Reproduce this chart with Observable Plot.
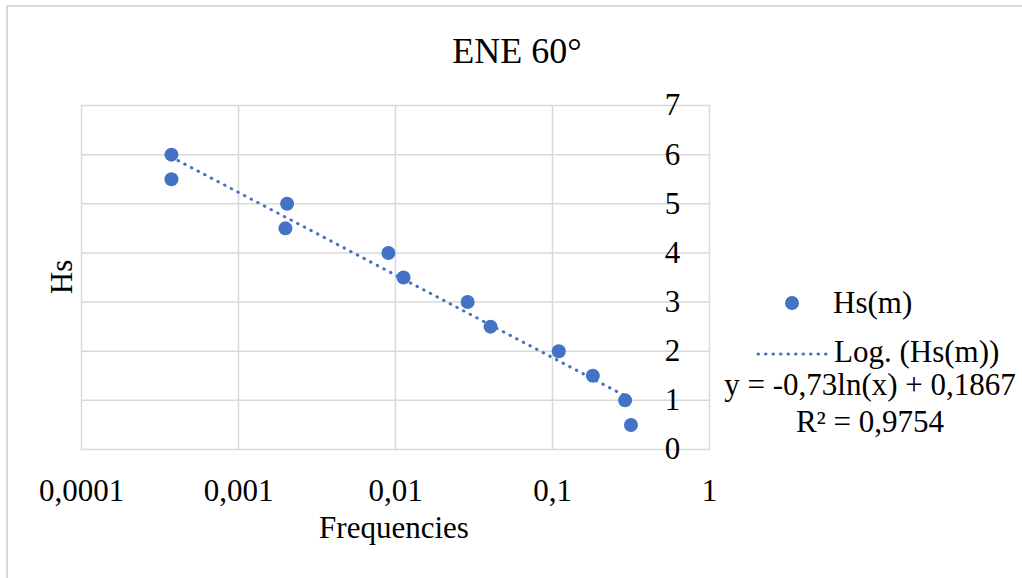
<!DOCTYPE html>
<html><head><meta charset="utf-8">
<script src="https://cdn.jsdelivr.net/npm/d3@7"></script>
<script src="https://cdn.jsdelivr.net/npm/@observablehq/plot@0.6"></script>
<style>
body{margin:0;background:#fff;}
#wrap{position:relative;width:1022px;height:578px;overflow:hidden;font-family:"Liberation Serif","Times New Roman",serif;}
#border{position:absolute;left:6px;top:5px;width:1040px;height:620px;border:2px solid #d9d9d9;box-sizing:border-box;}
#chart{position:absolute;left:0;top:0;}
#overlay{position:absolute;left:0;top:0;}
</style></head>
<body>
<div id="wrap"><div id="border"></div><div id="chart"></div>
<svg id="overlay" width="1022" height="578" font-family="Liberation Serif, Times New Roman, serif" fill="#000">
  <text x="517" y="63" font-size="36" text-anchor="middle">ENE 60°</text>
  <text x="394" y="538" font-size="31" text-anchor="middle">Frequencies</text>
  <text transform="translate(72,277) rotate(-90)" font-size="31" text-anchor="middle">Hs</text>
  <circle cx="792" cy="303" r="7" fill="#4472C4"></circle>
  <text x="833" y="313" font-size="31">Hs(m)</text>
  <line x1="758" y1="354" x2="826" y2="354" stroke="#4472C4" stroke-width="3" stroke-dasharray="0.5 7" stroke-linecap="round"></line>
  <text x="834" y="362" font-size="31">Log. (Hs(m))</text>
  <text x="870" y="395" font-size="31" text-anchor="middle">y = -0,73ln(x) + 0,1867</text>
  <text x="870" y="432" font-size="31" text-anchor="middle">R² = 0,9754</text>
</svg>
</div>
<script>
// Data
const freq = [0.000374, 0.000374, 0.00204, 0.00199, 0.00901, 0.01125, 0.0288, 0.0403, 0.1096, 0.1807, 0.290, 0.316];
const hs   = [6, 5.5, 5, 4.5, 4, 3.5, 3, 2.5, 2, 1.5, 1, 0.5];
// Logarithmic trendline endpoints (over data range)
const trendX = [0.000374, 0.316];
const trendY = [5.95, 1.03];
// Axis ticks
const xTicks = [0.0001, 0.001, 0.01, 0.1, 1];
const xLabels = ["0,0001", "0,001", "0,01", "0,1", "1"];
const yTicks = [0, 1, 2, 3, 4, 5, 6, 7];

const points = freq.map((f, i) => ({x: f, y: hs[i]}));
const trend = trendX.map((f, i) => ({x: f, y: trendY[i]}));
const blue = "#4472C4";
const grid = "#d9d9d9";

const chart = Plot.plot({
  width: 1022, height: 578,
  marginLeft: 81, marginRight: 313, marginTop: 105, marginBottom: 129,
  style: {fontFamily: "Liberation Serif, Times New Roman, serif", fontSize: "30px", color: "#000", background: "transparent", overflow: "visible"},
  x: {type: "log", domain: [1e-4, 1]},
  y: {domain: [0, 7]},
  marks: [
    Plot.gridX(xTicks.slice(1, -1), {stroke: grid, strokeOpacity: 1, strokeWidth: 1.5}),
    Plot.gridY(yTicks.slice(1, -1), {stroke: grid, strokeOpacity: 1, strokeWidth: 1.5}),
    Plot.frame({stroke: grid, strokeWidth: 1.5}),
    Plot.axisX(xTicks, {tickSize: 0, tickPadding: 29, fontSize: 31, tickFormat: d => xLabels[xTicks.indexOf(d)], label: null, fill: "#000"}),
    Plot.axisY(yTicks, {anchor: "right", tickSize: 0, tickPadding: 0, fontSize: 31, textAnchor: "middle", dx: -37, label: null, fill: "#000"}),
    Plot.dot(points, {x: "x", y: "y", r: 7, fill: blue}),
    Plot.line(trend, {x: "x", y: "y", stroke: blue, strokeWidth: 3, strokeDasharray: "0.5 7", strokeLinecap: "round"})
  ]
});
document.getElementById("chart").appendChild(chart);
</script>
</body></html>
